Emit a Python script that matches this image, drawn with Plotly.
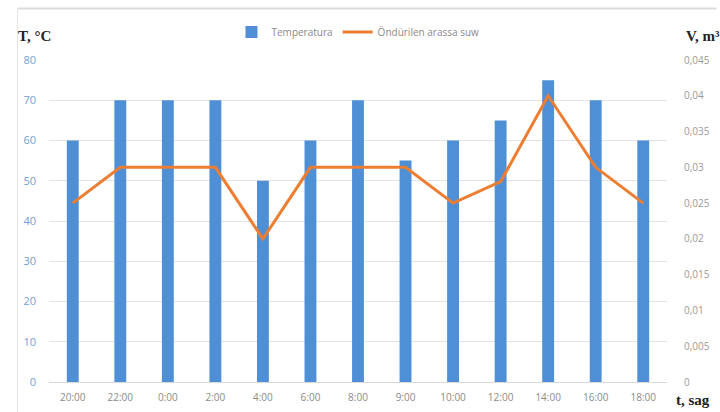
import plotly.graph_objects as go

# Time of day (x categories)
hours = ["20:00", "22:00", "0:00", "2:00", "4:00", "6:00", "8:00",
         "9:00", "10:00", "12:00", "14:00", "16:00", "18:00"]
# Temperature, °C (bars, left axis)
temperature = [60, 70, 70, 70, 50, 60, 70, 55, 60, 65, 75, 70, 60]
# Desalinated water volume, m³ (line, right axis)
water_volume = [0.025, 0.03, 0.03, 0.03, 0.02, 0.03, 0.03,
                0.03, 0.025, 0.028, 0.04, 0.03, 0.025]

left_ticks = list(range(0, 81, 10))
right_ticks = [i * 0.005 for i in range(10)]
right_labels = ["0"] + [("%g" % v).replace(".", ",") for v in right_ticks[1:]]

tick_font = "Open Sans"
title_font = "Liberation Serif"

fig = go.Figure()
fig.add_trace(go.Bar(
    x=hours, y=temperature, name="Temperatura",
    marker=dict(color="#4f8fd6", line=dict(width=0)),
    yaxis="y",
))
fig.add_trace(go.Scatter(
    x=hours, y=water_volume, name="Öndürilen arassa suw",
    mode="lines", line=dict(color="#ed7d31", width=3),
    yaxis="y2",
))

fig.update_layout(
    width=720, height=412,
    margin=dict(l=49, r=53, t=60, b=30, autoexpand=False),
    paper_bgcolor="white", plot_bgcolor="white",
    bargap=0.75,
    showlegend=True,
    legend=dict(
        orientation="h", x=0.5, xanchor="center",
        y=1 - 32 / 412, yref="container", yanchor="middle",
        font=dict(family=tick_font, size=10, color="#8a8a8a"),
        traceorder="normal", bgcolor="rgba(0,0,0,0)",
    ),
    xaxis=dict(
        type="category", range=[-0.5, 12.5],
        showgrid=False, showline=True, linecolor="#d9d9d9", linewidth=1,
        ticks="", tickfont=dict(family=tick_font, size=10, color="#8a8a8a"),
        ticklabelstandoff=6,
    ),
    yaxis=dict(
        range=[0, 80], tickvals=left_ticks,
        showgrid=True, gridcolor="#e3e3e3", gridwidth=1,
        zeroline=False, showline=False, ticks="",
        tickfont=dict(family=tick_font, size=11, color="#6f9fd8"),
        ticklabelstandoff=12,
    ),
    yaxis2=dict(
        range=[0, 0.045], overlaying="y", side="right",
        tickvals=right_ticks, ticktext=right_labels,
        showgrid=False, zeroline=False, showline=False, ticks="",
        tickfont=dict(family=tick_font, size=10, color="#9a9a9a"),
        ticklabelstandoff=16,
    ),
    shapes=[
        dict(type="line", xref="paper", yref="paper", x0=-0.051, x1=1.08,
             y0=1.16, y1=1.16, line=dict(color="#dcdcdc", width=2)),
        dict(type="line", xref="paper", yref="paper", x0=-0.051, x1=-0.051,
             y0=1.16, y1=-0.1, line=dict(color="#e6e6e6", width=1)),
    ],
    annotations=[
        dict(text="<b>T, °C</b>", xref="paper", yref="paper",
             x=-0.054, y=1.075, xanchor="left", yanchor="middle",
             showarrow=False,
             font=dict(family=title_font, size=15, color="#222")),
        dict(text="<b>V, m³</b>", xref="paper", yref="paper",
             x=1.027, y=1.075, xanchor="left", yanchor="middle",
             showarrow=False,
             font=dict(family=title_font, size=15, color="#222")),
        dict(text="<b>t, sag</b>", xref="paper", yref="paper",
             x=1.012, y=-0.055, xanchor="left", yanchor="middle",
             showarrow=False,
             font=dict(family=title_font, size=15, color="#222")),
    ],
)

fig.write_html("out.html")
